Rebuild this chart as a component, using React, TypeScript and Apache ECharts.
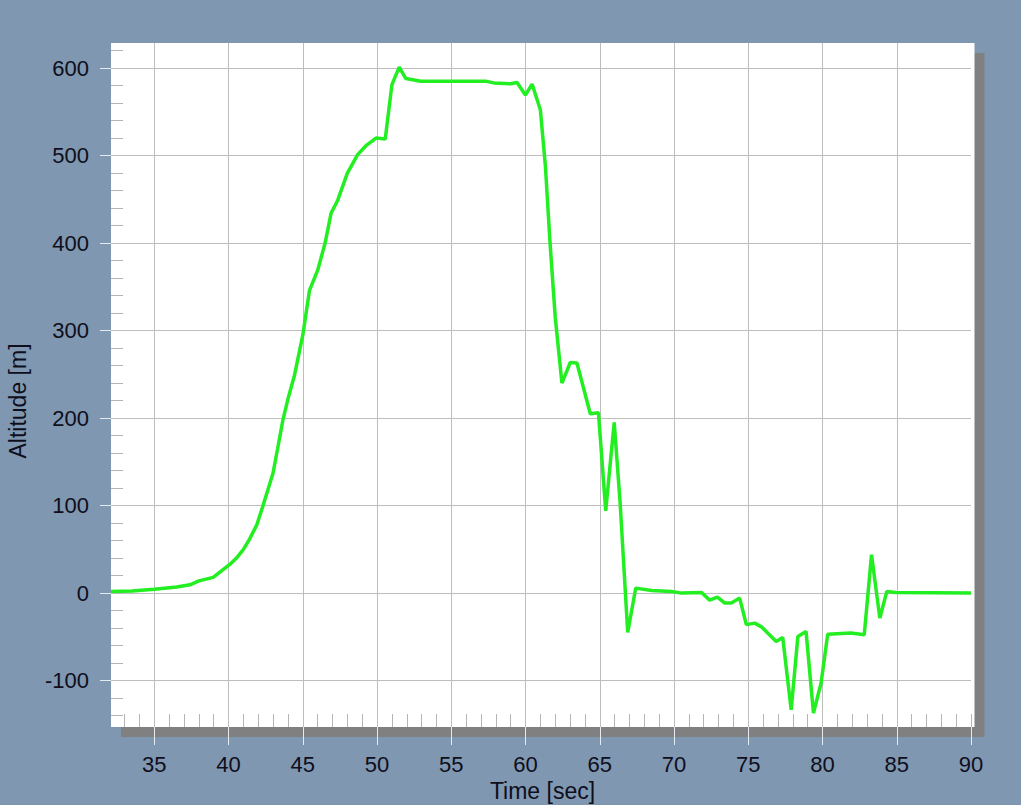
import React, { useEffect, useRef } from 'react';
import * as echarts from 'echarts';

// ---- data ----
const timeSec = [
  32.08, 33.5, 35.0, 36.5, 37.4, 38.0, 38.96, 39.5, 40.1, 40.53, 41.0, 41.42, 41.9, 42.3, 42.99,
  43.3, 43.66, 44.0, 44.44, 45.0, 45.45, 46.0, 46.5, 46.9, 47.35, 48.0, 48.69, 49.3, 49.93, 50.55, 51.0,
  51.49, 51.94, 52.95, 57.3, 57.87, 58.99, 59.43, 59.99, 60.44, 61.0, 61.34, 61.65, 62.0, 62.45,
  63.01, 63.46, 64.36, 64.91, 65.4, 65.97, 66.37, 66.88, 67.42, 68.49, 69.83, 70.5, 71.85, 72.4,
  72.92, 73.42, 73.86, 74.42, 74.87, 75.43, 75.92, 76.88, 77.32, 77.89, 78.34, 78.89, 79.39, 79.9,
  80.35, 81.91, 82.81, 83.3, 83.86, 84.33, 84.93, 90.0,
];
const altitudeM = [
  1.8, 2.5, 4.5, 7, 9.5, 14, 18, 25, 33, 40, 50, 62, 78, 99, 137,
  165, 198, 222, 249, 295, 346, 369, 400, 434, 449, 480, 501, 512, 520, 519, 581,
  601, 588, 585, 585, 583, 582, 583.5, 569, 581.7, 552, 487, 400, 315, 240,
  263.5, 263, 205, 206, 94, 195, 103, -45, 5.7, 3, 1.8, 0, 0.7, -8,
  -4.6, -11.4, -11.4, -5.7, -36, -34.3, -38.9, -55.3, -50.7, -133.4, -49.6, -43.9, -137, -103,
  -46.9, -45.7, -47.7, 43.8, -28.6, 1.8, 0.7, 0,
];

const xMajorTicks = [35, 40, 45, 50, 55, 60, 65, 70, 75, 80, 85, 90];
const xGridValues = [35, 40, 45, 50, 55, 60, 65, 70, 75, 80, 85];
const xMinorTicks = [
  33, 34, 36, 37, 38, 39, 41, 42, 43, 44, 46, 47, 48, 49, 51, 52, 53, 54, 56, 57, 58, 59,
  61, 62, 63, 64, 66, 67, 68, 69, 71, 72, 73, 74, 76, 77, 78, 79, 81, 82, 83, 84, 86, 87, 88, 89, 90,
];
const yMajorTicks = [-100, 0, 100, 200, 300, 400, 500, 600];
const yMinorTicks = [
  -140, -120, -80, -60, -40, -20, 20, 40, 60, 80, 120, 140, 160, 180, 220, 240, 260, 280,
  320, 340, 360, 380, 420, 440, 460, 480, 520, 540, 560, 580, 620,
];

const X_MIN = 32.08;
const X_MAX = 90;
const Y_MIN = -153;
const Y_MAX = 628.6;

const FONT = '"Liberation Sans", Arial, Helvetica, sans-serif';
const TEXT_COLOR = '#0e0e1c';
const BG = '#7f97b0';

export default function App() {
  const ref = useRef<HTMLDivElement>(null);

  useEffect(() => {
    if (!ref.current) return;
    const chart = echarts.init(ref.current, undefined, { renderer: 'svg' });

    const baseX = { type: 'value', min: X_MIN, max: X_MAX, position: 'bottom', gridIndex: 0 };
    const baseY = { type: 'value', min: Y_MIN, max: Y_MAX, position: 'left', gridIndex: 0 };
    const noLine = { show: false, onZero: false };

    chart.setOption({
      animation: false,
      backgroundColor: BG,
      grid: { left: 111, top: 43, right: 50, bottom: 78, show: false },
      graphic: [
        { type: 'rect', z: -2, shape: { x: 121, y: 53, width: 863.5, height: 684 }, style: { fill: '#808080' }, silent: true },
        { type: 'rect', z: -1, shape: { x: 111, y: 43, width: 863.5, height: 684 }, style: { fill: '#ffffff' }, silent: true },
        {
          type: 'text', x: 542.5, y: 791,
          style: { text: 'Time [sec]', font: `23px ${FONT}`, fill: TEXT_COLOR, align: 'center', verticalAlign: 'middle' },
        },
        {
          type: 'text', x: 18, y: 401, rotation: Math.PI / 2,
          style: { text: 'Altitude [m]', font: `23px ${FONT}`, fill: TEXT_COLOR, align: 'center', verticalAlign: 'middle' },
        },
      ],
      xAxis: [
        {
          ...baseX,
          axisLine: noLine,
          axisTick: { show: true, inside: false, length: 18, customValues: xMajorTicks, lineStyle: { color: '#e4eaf0', width: 1 } },
          axisLabel: { show: true, customValues: xMajorTicks, margin: 26, fontSize: 22, fontFamily: FONT, color: TEXT_COLOR },
          splitLine: { show: false },
        },
        {
          ...baseX,
          axisLine: noLine,
          axisTick: { show: false, customValues: xGridValues },
          axisLabel: { show: false, customValues: xGridValues },
          splitLine: { show: true, lineStyle: { color: '#bdbdbd', width: 1 } },
        },
        {
          ...baseX,
          axisLine: noLine,
          axisTick: { show: true, inside: true, length: 13, customValues: xMinorTicks, lineStyle: { color: '#b4b4b4', width: 1 } },
          axisLabel: { show: false },
          splitLine: { show: false },
        },
      ],
      yAxis: [
        {
          ...baseY,
          axisLine: noLine,
          axisTick: { show: true, inside: false, length: 11, customValues: yMajorTicks, lineStyle: { color: '#e4eaf0', width: 1 } },
          axisLabel: { show: true, customValues: yMajorTicks, margin: 22, fontSize: 22, fontFamily: FONT, color: TEXT_COLOR },
          splitLine: { show: true, lineStyle: { color: '#bdbdbd', width: 1 } },
        },
        {
          ...baseY,
          axisLine: noLine,
          axisTick: { show: true, inside: true, length: 12, customValues: yMinorTicks, lineStyle: { color: '#b4b4b4', width: 1 } },
          axisLabel: { show: false },
          splitLine: { show: false },
        },
      ],
      series: [
        {
          type: 'line',
          xAxisIndex: 0,
          yAxisIndex: 0,
          data: timeSec.map((t, i) => [t, altitudeM[i]]),
          showSymbol: false,
          symbol: 'none',
          lineStyle: { color: '#22ee22', width: 3.5 },
          z: 5,
        },
      ],
    });

    return () => chart.dispose();
  }, []);

  return (
    <div
      ref={ref}
      style={{ position: 'fixed', left: 0, top: 0, width: 1021, height: 805 }}
    />
  );
}
